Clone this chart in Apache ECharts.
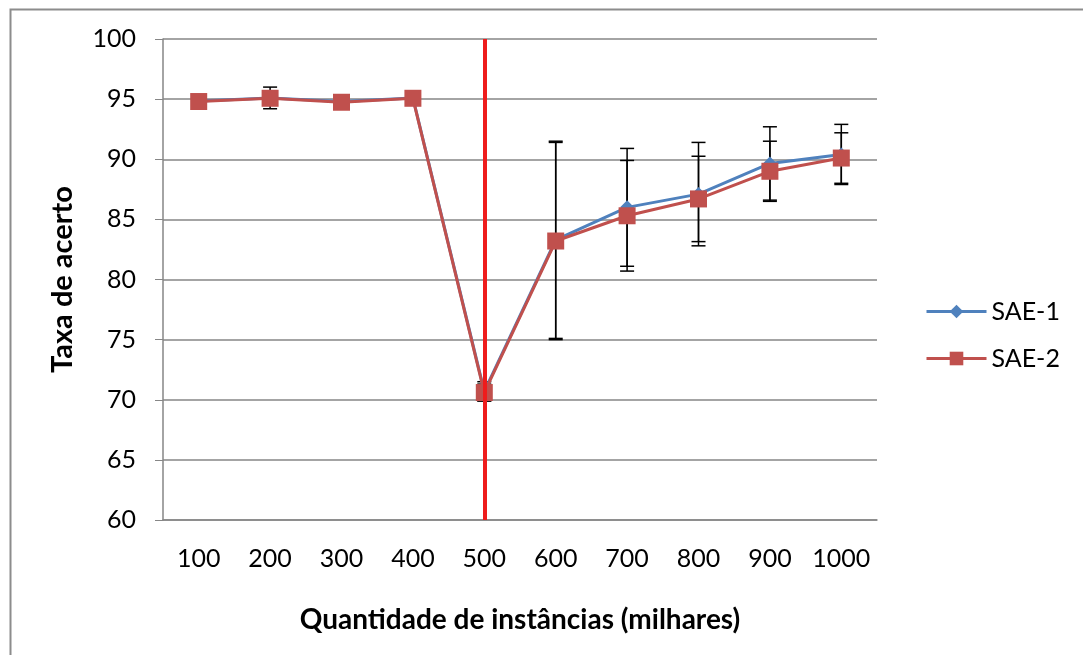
<!DOCTYPE html>
<html>
<head>
<meta charset="utf-8">
<script src="https://cdn.jsdelivr.net/npm/echarts@6/dist/echarts.min.js"></script>
<style>
html,body{margin:0;padding:0;background:#fff;}
#c{width:1083px;height:655px;}
</style>
</head>
<body>
<div id="c"></div>
<script>
var categories = ['100','200','300','400','500','600','700','800','900','1000'];
var sae1 = [94.85, 95.1, 94.8, 95.1, 70.7, 83.3, 86.0, 87.1, 89.65, 90.4];
var sae2 = [94.8, 95.07, 94.74, 95.07, 70.6, 83.2, 85.3, 86.7, 89.0, 90.1];
var err1 = [0.3, 0.9, 0.2, 0.5, 0.8, 8.2, 4.9, 4.3, 3.05, 2.5];
var err2 = [0.2, 0.3, 0.2, 0.3, 0.7, 8.2, 4.6, 3.55, 2.5, 2.1];
var markerCategory = '500';

var FONT = 'Lato';

function errData(vals, errs) {
  return vals.map(function (v, i) { return [i, v - errs[i], v + errs[i]]; });
}
function renderErr(params, api) {
  var x = api.value(0);
  var lo = api.coord([x, api.value(1)]);
  var hi = api.coord([x, api.value(2)]);
  var w = 7;
  var st = { stroke: '#000', lineWidth: 1.5 };
  return {
    type: 'group',
    children: [
      { type: 'line', shape: { x1: hi[0], y1: hi[1], x2: lo[0], y2: lo[1] }, style: st },
      { type: 'line', shape: { x1: hi[0] - w, y1: hi[1], x2: hi[0] + w, y2: hi[1] }, style: st },
      { type: 'line', shape: { x1: lo[0] - w, y1: lo[1], x2: lo[0] + w, y2: lo[1] }, style: st }
    ]
  };
}

var chart = echarts.init(document.getElementById('c'), null, { renderer: 'canvas' });
chart.setOption({
  animation: false,
  backgroundColor: '#fff',
  textStyle: { fontFamily: FONT },
  graphic: [{
    type: 'rect', left: 8, top: 7, z: 0,
    shape: { x: 0, y: 0, width: 1100, height: 700 },
    style: { fill: 'none', stroke: '#8c8c8c', lineWidth: 2 }
  }],
  grid: { left: 163, top: 39, right: 206, bottom: 135 },
  legend: {
    orient: 'vertical',
    left: 920, top: 294,
    itemWidth: 60, itemHeight: 17, itemGap: 22,
    lineStyle: { width: 3 },
    textStyle: { fontFamily: FONT, fontSize: 25, color: '#000' },
    data: ['SAE-1', 'SAE-2']
  },
  xAxis: {
    type: 'category',
    data: categories,
    boundaryGap: true,
    name: 'Quantidade de instâncias (milhares)',
    nameLocation: 'middle',
    nameGap: 86,
    nameTextStyle: { fontFamily: FONT, fontSize: 28, fontWeight: 'bold', color: '#000' },
    axisLine: { lineStyle: { color: '#868686', width: 1.5 } },
    axisTick: { show: false },
    axisLabel: { interval: 0, fontFamily: FONT, fontSize: 25, color: '#000', margin: 26 },
    splitLine: { show: false }
  },
  yAxis: {
    type: 'value',
    min: 60, max: 100, interval: 5,
    name: 'Taxa de acerto',
    nameLocation: 'middle',
    nameGap: 86,
    nameTextStyle: { fontFamily: FONT, fontSize: 29, fontWeight: 'bold', color: '#000' },
    axisLine: { show: true, lineStyle: { color: '#868686', width: 1.5 } },
    axisTick: { show: true, length: 8, inside: false, lineStyle: { color: '#868686' } },
    axisLabel: { fontFamily: FONT, fontSize: 25, color: '#000', margin: 27 },
    splitLine: { show: true, lineStyle: { color: '#868686', width: 1.5 } }
  },
  series: [
    {
      name: 'err1', type: 'custom', renderItem: renderErr,
      data: errData(sae1, err1), z: 1, silent: true,
      encode: { x: 0, y: [1, 2] }
    },
    {
      name: 'err2', type: 'custom', renderItem: renderErr,
      data: errData(sae2, err2), z: 1, silent: true,
      encode: { x: 0, y: [1, 2] }
    },
    {
      name: 'SAE-1', type: 'line', data: sae1, z: 2,
      symbol: 'diamond', symbolSize: 14,
      itemStyle: { color: '#4F81BD' },
      lineStyle: { color: '#4F81BD', width: 3 }
    },
    {
      name: 'SAE-2', type: 'line', data: sae2, z: 3,
      symbol: 'rect', symbolSize: 17,
      itemStyle: { color: '#C0504D' },
      lineStyle: { color: '#C0504D', width: 3 },
      markLine: {
        silent: true, symbol: 'none', z: 10,
        label: { show: false },
        lineStyle: { color: '#EE1C1C', width: 4, type: 'solid' },
        data: [{ xAxis: markerCategory }]
      }
    }
  ]
});
</script>
</body>
</html>
